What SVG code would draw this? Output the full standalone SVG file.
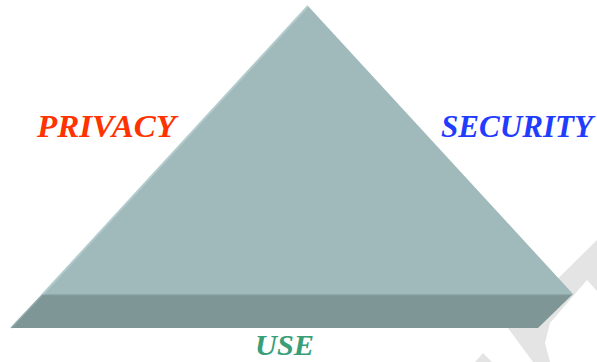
<svg xmlns="http://www.w3.org/2000/svg" width="597" height="362" viewBox="0 0 597 362">
  <style>
    .lbl { font-family: "Liberation Serif", "Times New Roman", serif; font-weight: bold; font-style: italic; font-size: 32px; }
    .wm { fill: #e4e4e4; }
  </style>
  <rect width="597" height="362" fill="#ffffff"/>
  <g id="watermark">
    <polygon class="wm" points="597,240 508,328 533,362 550,362 545,343 550,323 587,280 597,291"/>
    <polygon class="wm" points="475,362 483,353 492,362"/>
  </g>
  <g id="pyramid">
    <polygon points="43,294 573,294 538,328 11,328" fill="#7f9696"/>
    <line x1="43" y1="294.5" x2="572" y2="294.5" stroke="#8ea7a8" stroke-width="1.5"/>
    <polygon points="308,6 573,294 43,294" fill="#a0b9ba"/>
    <line x1="308" y1="6" x2="43" y2="294" stroke="#b3cbcc" stroke-width="2"/>
    <line x1="43" y1="294" x2="11" y2="328" stroke="#93abac" stroke-width="1.5"/>
  </g>
  <g id="privacy">
    <text class="lbl" x="37" y="137" fill="#ff3300" textLength="139" lengthAdjust="spacingAndGlyphs">PRIVACY</text>
  </g>
  <g id="security">
    <text class="lbl" x="441" y="137" fill="#1f3cff" textLength="152" lengthAdjust="spacingAndGlyphs">SECURITY</text>
  </g>
  <g id="use">
    <text class="lbl" x="255" y="355" fill="#3a9e78" font-size="30" style="font-size:30px" textLength="59" lengthAdjust="spacingAndGlyphs">USE</text>
  </g>
  <g id="connectors"/>
</svg>
